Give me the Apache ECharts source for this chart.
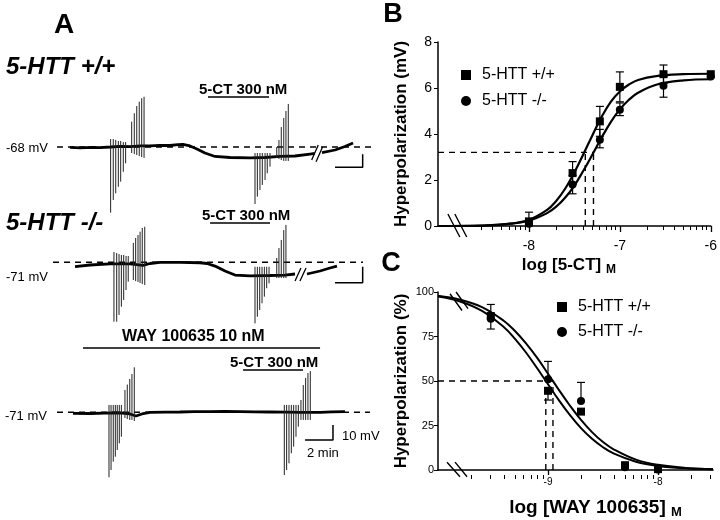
<!DOCTYPE html>
<html><head><meta charset="utf-8">
<script src="https://cdn.jsdelivr.net/npm/echarts@6/dist/echarts.min.js"></script>
<style>html,body{margin:0;padding:0;background:#fff}#c{width:720px;height:520px}</style>
</head><body><div id="c"></div>
<script>
const FONT = '"Liberation Sans", Arial, Helvetica, sans-serif';

// ---------- Panel A : membrane potential traces (time in min, Vm relative to rest in mV) ----------
const trace1Time = [1.45, 2.2, 3.0, 3.64, 4.4, 5.1, 5.82, 6.6, 7.27, 8.0, 8.73, 9.3, 9.67, 10.18, 10.69, 11.27, 12.0, 13.09, 14.55, 15.64, 16.73, 17.82, 18.91, 19.27, 19.5, 19.78, 20.73, 21.45, 22.04];
const trace1Vm   = [-0.3, -0.6, -0.2, -0.4, 0.0, 0.4, 0.3, 0.8, 0.7, 1.1, 1.0, 1.6, 1.7, 0.7, -1.3, -4.0, -6.3, -7.0, -7.3, -7.0, -6.3, -6.0, -4.7, -4.3, null, -3.7, -2.0, 0.3, 2.7];
const trace2Time = [1.82, 2.91, 4.36, 5.82, 6.76, 7.27, 8.0, 9.45, 10.91, 11.42, 12.0, 12.73, 13.45, 14.55, 16.0, 17.09, 17.82, 18.2, 18.69, 19.64, 20.36, 20.87];
const trace2Vm   = [-2.9, -1.8, -1.1, -1.1, -2.1, -0.8, -0.1, -0.1, -0.3, -0.8, -2.5, -5.8, -8.5, -9.1, -8.8, -8.5, -7.8, null, -7.8, -5.8, -3.8, -2.5];
const trace3Time = [1.67, 2.91, 4.0, 5.0, 5.82, 6.25, 6.69, 7.27, 8.4, 9.45, 10.5, 11.64, 12.7, 13.82, 14.9, 16.0, 17.1, 18.18, 19.0, 19.64, 20.5, 21.45];
const trace3Vm   = [-0.7, -0.8, -0.5, -0.3, -1.1, -2.5, -1.1, -0.1, 0.1, 0.2, 0.4, 0.5, 0.6, 0.5, 0.3, 0.2, 0.1, -0.1, 0.0, -0.1, 0.3, 0.4];

// voltage responses to current steps: time, top (mV), bottom (mV)
const spikes1Time = [4.41, 4.60, 4.78, 4.97, 5.14, 5.33, 5.50, 5.94, 6.13, 6.31, 6.49, 6.67, 6.84,
                     14.91, 15.08, 15.27, 15.44, 15.64, 15.80, 16.0, 16.49, 16.65, 16.82, 17.0, 17.16, 17.33];
const spikes1Top  = [5.3, 5.3, 4.7, 4.0, 4.0, 3.3, 3.3, 16.9, 22.5, 27.3, 30.2, 32.5, 33.5,
                     -4, -4, -4, -4, -4, -4, -4, 0, 4.7, 13.3, 19.3, 24, 28.7];
const spikes1Bot  = [-43.8, -35.3, -30.9, -26.5, -23.1, -16.5, -10.9, -4, -4.7, -5.3, -6, -6.7, -7.3,
                     -38, -33.1, -28.7, -25.3, -22, -17.5, -13.1, -7.3, -8, -8.7, -9.3, -9.3, -9.3];
const spikes2Time = [4.65, 4.85, 5.02, 5.19, 5.36, 5.53, 5.69, 6.06, 6.23, 6.4, 6.55, 6.71, 6.89,
                     14.91, 15.08, 15.25, 15.42, 15.59, 15.76, 15.93, 16.49, 16.65, 16.82, 17.0, 17.16];
const spikes2Top  = [6.9, 6.2, 5.5, 4.9, 4.9, 4.2, 4.2, 12.9, 16.2, 18.2, 20.4, 22.9, 23.7,
                     -3, -3, -3, -3, -3, -3, -3, 2.9, 9.5, 14.9, 21.5, 24.9];
const spikes2Bot  = [-39.6, -39.6, -35.1, -29.6, -25.1, -18.5, -12.9, -11.8, -12.5, -13.1, -13.8, -14.5, -15.1,
                     -40.7, -36.3, -31.8, -27.3, -22.9, -17.3, -14, -10.5, -10.5, -10.5, -10.5, -10.5];
const spikes3Time = [4.29, 4.44, 4.6, 4.75, 4.89, 5.04, 5.19, 5.45, 5.62, 5.8, 5.96, 6.13,
                     17.04, 17.21, 17.38, 17.55, 17.72, 17.89, 18.06, 18.25, 18.42, 18.59, 18.76, 18.93];
const spikes3Top  = [4.9, 4.9, 4.9, 4.9, 4.9, 4.9, 4.9, 14.9, 18.5, 22.2, 25.5, 30,
                     4.9, 4.9, 4.9, 4.9, 4.9, 4.9, 4.9, 8.2, 18.2, 22.9, 26.2, 27.5];
const spikes3Bot  = [-43.3, -38.5, -32.9, -29.6, -25.1, -20.7, -16.3, -3.8, -4.5, -5.1, -5.1, -5.8,
                     -41.8, -38.5, -34, -27.3, -22.9, -16.3, -9.6, -5.1, -5.1, -5.1, -5.1, -5.1];

// drug application bars [start, end] (min) and their drawing level (mV)
const drug1 = [11.49, 15.93], drug1Level = 33.3;
const drug2 = [11.64, 16.0],  drug2Level = 26.2;
const way3  = [2.4, 19.64],   way3Level = 42.9;
const drug3 = [14.04, 18.4],  drug3Level = 28.2;
// resting-level dashed lines [start, end] (min)
const rest1 = [0.51, 23.56], rest2 = [0.22, 22.76], rest3 = [0.51, 23.27];
// time-break marks: [t0, v0, t1, v1]
const break1 = [[19.03, -8.7, 19.51, 1.3], [19.35, -9.8, 19.83, 0.2]];
const break2 = [[17.82, -12.5, 18.25, -3.8], [18.18, -12.5, 18.62, -3.8]];
// scale bars: time span (min), voltage span (mV)
const scale1T = [20.73, 22.74], scale1V = [-13.5, -4.9];
const scale2T = [20.73, 22.74], scale2V = [-13.6, -2.9];
const scale3T = [18.55, 20.58], scale3V = [-18.5, -8.5];

// ---------- Panel B : log [5-CT] vs hyperpolarization (mV) ----------
const bLogConc = [-8, -7.52, -7.22, -7, -6.52, -6];
const bWT      = [0.2, 2.3, 4.55, 6.05, 6.6, 6.6];
const bWTLow   = [0, 1.8, 3.9, 5.4, 6.2, 6.6];
const bWTHigh  = [0.6, 2.8, 5.2, 6.7, 7.0, 6.6];
const bKO      = [0.1, 1.8, 3.75, 5.05, 6.1, 6.5];
const bKOLow   = [0.1, 1.4, 3.4, 4.8, 5.6, 6.5];
const bKOHigh  = [0.1, 2.2, 4.2, 5.35, 6.5, 6.5];
const bCurveX  = [-9, -8.5, -8.2, -8, -7.8, -7.7, -7.6, -7.5, -7.4, -7.3, -7.2, -7.1, -7, -6.9, -6.8, -6.6, -6.3, -6];
const bCurveWT = [0.0, 0.02, 0.1, 0.27, 0.7, 1.09, 1.63, 2.33, 3.13, 3.96, 4.75, 5.4, 5.85, 6.15, 6.35, 6.52, 6.6, 6.62];
const bCurveKO = [0.0, 0.02, 0.1, 0.23, 0.56, 0.84, 1.24, 1.76, 2.41, 3.12, 3.85, 4.52, 5.07, 5.49, 5.79, 6.14, 6.33, 6.38];
const bHalf = 3.2, bEC50 = [-7.38, -7.29];
const bMajorTicks = [-8, -7, -6];
const bBreak = [[-8.891, 0.52, -8.76, -0.48], [-8.815, 0.52, -8.684, -0.48]];

// ---------- Panel C : log [WAY 100635] vs hyperpolarization (%) ----------
const cLogConc = [-9.52, -9, -8.7, -8.3, -8];
const cWT      = [86.5, 44.5, 32.8, 2.7, 0.5];
const cWTLow   = [79.2, 39.3, 32.8, 2.7, 0.5];
const cWTHigh  = [93, 44.5, 32.8, 2.7, 0.5];
const cKO      = [85, 51, 38.8, 1.5, 0.3];
const cKOLow   = [85, 51, 38.8, 1.5, 0.3];
const cKOHigh  = [85, 61, 49.2, 1.5, 0.3];
const cCurveX  = [-10, -9.8, -9.6, -9.4, -9.3, -9.2, -9.1, -9.0, -8.9, -8.8, -8.7, -8.6, -8.5, -8.4, -8.2, -8.0, -7.75, -7.5];
const cCurveWT = [97.4, 94.7, 89.4, 80.2, 73.7, 66.0, 57.3, 48.2, 39.1, 30.8, 23.5, 17.5, 12.8, 9.2, 4.65, 2.28, 0.92, 0.37];
const cCurveKO = [97.9, 95.7, 91.5, 83.7, 78.1, 71.1, 63.1, 54.1, 44.9, 36.1, 28.1, 21.3, 15.7, 11.5, 5.8, 2.9, 1.17, 0.47];
const cHalf = 50, cIC50 = [-9.02, -8.955];
const cMajorTicks = [-9, -8];
const cBreakX = [[-9.918, 4.4, -9.8, -3.8], [-9.845, 4.4, -9.736, -3.8]];
const cBreakTop = [[-9.891, 99, -9.782, 89.6], [-9.836, 100, -9.727, 90.7]];

// log-spaced minor tick positions (k x 10^e)
function minorTicks(e0, e1, lo, hi) {
  const out = [];
  for (let e = e0; e <= e1; e++) for (let k = 2; k <= 9; k++) {
    const v = e + Math.log10(k);
    if (v > lo && v < hi) out.push(+v.toFixed(4));
  }
  return out;
}
const bMinor = minorTicks(-9, -7, -8.55, -6);
const cMinor = minorTicks(-10, -8, -9.75, -7.5);

// ---------- helpers ----------
const zip = (xs, ys) => xs.map((x, i) => [x, ys[i] === null ? '-' : ys[i]]);
const zip3 = (xs, a, b) => xs.map((x, i) => [x, a[i], b[i]]);
const segs = (list) => { const d = []; list.forEach((s, i) => { if (i) d.push(['-', '-']); d.push([s[0], s[1]], [s[2], s[3]]); }); return d; };
const scaleBar = (t, v) => [[t[0], v[0]], [t[1], v[0]], [t[1], v[1]]];

function vline(params, api) {
  const p1 = api.coord([api.value(0), api.value(1)]);
  const p2 = api.coord([api.value(0), api.value(2)]);
  return { type: 'line', shape: { x1: p1[0], y1: p1[1], x2: p2[0], y2: p2[1] }, style: { stroke: '#222', lineWidth: 1 } };
}
function errBar(params, api) {
  const lo = api.coord([api.value(0), api.value(1)]);
  const hi = api.coord([api.value(0), api.value(2)]);
  const w = 4, st = { stroke: '#000', lineWidth: 1.2 };
  return { type: 'group', children: [
    { type: 'line', shape: { x1: hi[0], y1: hi[1], x2: lo[0], y2: lo[1] }, style: st },
    { type: 'line', shape: { x1: hi[0] - w, y1: hi[1], x2: hi[0] + w, y2: hi[1] }, style: st },
    { type: 'line', shape: { x1: lo[0] - w, y1: lo[1], x2: lo[0] + w, y2: lo[1] }, style: st }
  ]};
}
const errData = (xs, lo, hi) => zip3(xs, lo, hi).filter(d => d[1] !== d[2]);

const black = '#000';
function plainLine(xi, data, width, dashed) {
  return { type: 'line', xAxisIndex: xi, yAxisIndex: xi, data, symbol: 'none', silent: true, clip: false,
    connectNulls: false, lineStyle: { color: black, width, type: dashed ? [6, 5] : 'solid' }, z: 3 };
}
function traceSeries(i, time, vm, sT, sTop, sBot, restSpan, scaleT, scaleV, brk, bars) {
  const s = [
    plainLine(i, [[restSpan[0], 0], [restSpan[1], 0]], 1.5, true),
    plainLine(i, zip(time, vm), 2.8, false),
    { type: 'custom', xAxisIndex: i, yAxisIndex: i, renderItem: vline, data: zip3(sT, sTop, sBot), silent: true, z: 4 },
    plainLine(i, scaleBar(scaleT, scaleV), 1.5, false)
  ];
  if (brk) s.push(plainLine(i, segs(brk), 1.3, false));
  bars.forEach(b => s.push(plainLine(i, [[b[0][0], b[1]], [b[0][1], b[1]]], 1.6, false)));
  return s;
}

const axisTxt = { color: black, fontFamily: FONT };
const traceGrids = [147, 262.3, 412.3].map(base => ({ left: 36.25, width: 343.75, top: base - 67.5, height: 142.5 }));
const gridB = { left: 438, top: 42, width: 275, height: 184 };
const gridC = { left: 438, top: 292, width: 275, height: 183 };

// axis carrying only the log-spaced minor ticks, moved onto the bottom edge of its grid
const minorAxis = (gi, min, max, vals, h) => ({
  gridIndex: gi, type: 'value', min, max, offset: -h, splitLine: { show: false },
  axisLine: { show: false }, axisLabel: { show: false },
  axisTick: { show: true, inside: true, customValues: vals, length: 4, lineStyle: { color: black, width: 1 } }
});

const option = {
  animation: false,
  backgroundColor: '#fff',
  textStyle: { fontFamily: FONT },
  grid: [...traceGrids, gridB, gridC],
  xAxis: [
    { gridIndex: 0, type: 'value', min: -1, max: 24, show: false },
    { gridIndex: 1, type: 'value', min: -1, max: 24, show: false },
    { gridIndex: 2, type: 'value', min: -1, max: 24, show: false },
    { gridIndex: 3, type: 'value', min: -9, max: -6, splitLine: { show: false },
      axisLine: { lineStyle: { color: black, width: 1.5 } },
      axisTick: { customValues: bMajorTicks, length: 6, lineStyle: { color: black, width: 1.3 } },
      axisLabel: { customValues: bMajorTicks, fontSize: 14, margin: 13, ...axisTxt },
      name: 'log [5-CT] {s|M}', nameLocation: 'middle', nameGap: 29,
      nameTextStyle: { fontSize: 17, fontWeight: 'bold', color: black, fontFamily: FONT, padding: [0, 11, 0, 0],
        rich: { s: { fontSize: 12, fontWeight: 'bold', fontFamily: FONT, padding: [9, 0, 0, 0] } } } },
    minorAxis(3, -9, -6, bMinor, gridB.height),
    { gridIndex: 4, type: 'value', min: -10, max: -7.5, splitLine: { show: false },
      axisLine: { lineStyle: { color: black, width: 1.5 } },
      axisTick: { customValues: cMajorTicks, length: 5, lineStyle: { color: black, width: 1.3 } },
      axisLabel: { customValues: cMajorTicks, fontSize: 10, margin: 7, ...axisTxt },
      name: 'log [WAY 100635] {s|M}', nameLocation: 'middle', nameGap: 26,
      nameTextStyle: { fontSize: 19, fontWeight: 'bold', color: black, fontFamily: FONT, padding: [0, 0, 0, 40],
        rich: { s: { fontSize: 13, fontWeight: 'bold', fontFamily: FONT, padding: [10, 0, 0, 0] } } } },
    minorAxis(4, -10, -7.5, cMinor, gridC.height)
  ],
  yAxis: [
    { gridIndex: 0, type: 'value', min: -50, max: 45, show: false },
    { gridIndex: 1, type: 'value', min: -50, max: 45, show: false },
    { gridIndex: 2, type: 'value', min: -50, max: 45, show: false },
    { gridIndex: 3, type: 'value', min: 0, max: 8, interval: 2, splitLine: { show: false },
      axisLine: { show: true, lineStyle: { color: black, width: 1.5 } },
      axisTick: { show: true, length: 4, lineStyle: { color: black } },
      axisLabel: { fontSize: 14, margin: 6, ...axisTxt },
      name: 'Hyperpolarization (mV)', nameLocation: 'middle', nameGap: 28,
      nameTextStyle: { fontSize: 17, fontWeight: 'bold', color: black, fontFamily: FONT } },
    { gridIndex: 4, type: 'value', min: 0, max: 100, interval: 25, splitLine: { show: false },
      axisLine: { show: true, lineStyle: { color: black, width: 1.5 } },
      axisTick: { show: true, length: 4, lineStyle: { color: black } },
      axisLabel: { fontSize: 11, margin: 4, ...axisTxt },
      name: 'Hyperpolarization (%)', nameLocation: 'middle', nameGap: 28,
      nameTextStyle: { fontSize: 17, fontWeight: 'bold', color: black, fontFamily: FONT } }
  ],
  legend: [
    { data: ['5-HTT +/+', '5-HTT -/-'], orient: 'vertical', left: 456, top: 62, itemWidth: 10, itemHeight: 10, itemGap: 10,
      itemStyle: { opacity: 1 }, textStyle: { fontSize: 16, color: black, fontFamily: FONT, padding: [0, 0, 0, 6] }, selectedMode: false },
    { data: ['5-HTT +/+', '5-HTT -/-'], orient: 'vertical', left: 552, top: 294, itemWidth: 10, itemHeight: 10, itemGap: 9,
      itemStyle: { opacity: 1 }, textStyle: { fontSize: 16, color: black, fontFamily: FONT, padding: [0, 0, 0, 6] }, selectedMode: false }
  ],
  graphic: [
    { type: 'text', x: 64, y: 25, style: { text: 'A', font: `bold 28px ${FONT}`, fill: black, textAlign: 'center', textVerticalAlign: 'middle' } },
    { type: 'text', x: 6, y: 67, style: { text: '5-HTT +/+', font: `italic bold 24px ${FONT}`, fill: black, textVerticalAlign: 'middle' } },
    { type: 'text', x: 199, y: 90, style: { text: '5-CT 300 nM', font: `bold 15px ${FONT}`, fill: black, textVerticalAlign: 'middle' } },
    { type: 'text', x: 6, y: 148, style: { text: '-68 mV', font: `13px ${FONT}`, fill: black, textVerticalAlign: 'middle' } },
    { type: 'text', x: 6, y: 223, style: { text: '5-HTT -/-', font: `italic bold 24px ${FONT}`, fill: black, textVerticalAlign: 'middle' } },
    { type: 'text', x: 202, y: 216, style: { text: '5-CT 300 nM', font: `bold 15px ${FONT}`, fill: black, textVerticalAlign: 'middle' } },
    { type: 'text', x: 6, y: 277, style: { text: '-71 mV', font: `13px ${FONT}`, fill: black, textVerticalAlign: 'middle' } },
    { type: 'text', x: 122, y: 337, style: { text: 'WAY 100635 10 nM', font: `bold 16px ${FONT}`, fill: black, textVerticalAlign: 'middle' } },
    { type: 'text', x: 230, y: 363, style: { text: '5-CT 300 nM', font: `bold 15px ${FONT}`, fill: black, textVerticalAlign: 'middle' } },
    { type: 'text', x: 5, y: 416, style: { text: '-71 mV', font: `13px ${FONT}`, fill: black, textVerticalAlign: 'middle' } },
    { type: 'text', x: 342, y: 436, style: { text: '10 mV', font: `13px ${FONT}`, fill: black, textVerticalAlign: 'middle' } },
    { type: 'text', x: 307, y: 453, style: { text: '2 min', font: `13px ${FONT}`, fill: black, textVerticalAlign: 'middle' } },
    { type: 'text', x: 393, y: 15, style: { text: 'B', font: `bold 27px ${FONT}`, fill: black, textAlign: 'center', textVerticalAlign: 'middle' } },
    { type: 'text', x: 391, y: 264, style: { text: 'C', font: `bold 27px ${FONT}`, fill: black, textAlign: 'center', textVerticalAlign: 'middle' } }
  ],
  series: [
    ...traceSeries(0, trace1Time, trace1Vm, spikes1Time, spikes1Top, spikes1Bot, rest1, scale1T, scale1V, break1, [[drug1, drug1Level]]),
    ...traceSeries(1, trace2Time, trace2Vm, spikes2Time, spikes2Top, spikes2Bot, rest2, scale2T, scale2V, break2, [[drug2, drug2Level]]),
    ...traceSeries(2, trace3Time, trace3Vm, spikes3Time, spikes3Top, spikes3Bot, rest3, scale3T, scale3V, null, [[way3, way3Level], [drug3, drug3Level]]),

    // Panel B (xAxis 3, yAxis 3)
    { ...plainLine(3, [[-9, bHalf], [bEC50[1], bHalf]], 1.4, true) },
    { ...plainLine(3, [[bEC50[0], 0], [bEC50[0], bHalf]], 1.4, true) },
    { ...plainLine(3, [[bEC50[1], 0], [bEC50[1], bHalf]], 1.4, true) },
    { ...plainLine(3, segs(bBreak), 1.4, false) },
    { type: 'line', name: 'fit +/+ B', xAxisIndex: 3, yAxisIndex: 3, data: zip(bCurveX, bCurveWT), smooth: 0.4, symbol: 'none', lineStyle: { color: black, width: 2.2 }, z: 5 },
    { type: 'line', name: 'fit -/- B', xAxisIndex: 3, yAxisIndex: 3, data: zip(bCurveX, bCurveKO), smooth: 0.4, symbol: 'none', lineStyle: { color: black, width: 2.2 }, z: 5 },
    { type: 'custom', xAxisIndex: 3, yAxisIndex: 3, renderItem: errBar, data: errData(bLogConc, bWTLow, bWTHigh), z: 6 },
    { type: 'custom', xAxisIndex: 3, yAxisIndex: 3, renderItem: errBar, data: errData(bLogConc, bKOLow, bKOHigh), z: 6 },
    { type: 'scatter', name: '5-HTT -/-', xAxisIndex: 3, yAxisIndex: 3, data: zip(bLogConc, bKO), symbol: 'circle', symbolSize: 8, itemStyle: { color: black, opacity: 1 }, z: 7 },
    { type: 'scatter', name: '5-HTT +/+', xAxisIndex: 3, yAxisIndex: 3, data: zip(bLogConc, bWT), symbol: 'rect', symbolSize: 8, itemStyle: { color: black, opacity: 1 }, z: 8 },

    // Panel C (xAxis 5, yAxis 4)
    { ...plainLine(5, [[-10, cHalf], [cIC50[1], cHalf]], 1.4, true), yAxisIndex: 4 },
    { ...plainLine(5, [[cIC50[0], 0], [cIC50[0], cHalf]], 1.4, true), yAxisIndex: 4 },
    { ...plainLine(5, [[cIC50[1], 0], [cIC50[1], cHalf]], 1.4, true), yAxisIndex: 4 },
    { ...plainLine(5, segs(cBreakX), 1.4, false), yAxisIndex: 4 },
    { ...plainLine(5, segs(cBreakTop), 1.4, false), yAxisIndex: 4, z: 9 },
    { type: 'line', name: 'fit +/+ C', xAxisIndex: 5, yAxisIndex: 4, data: zip(cCurveX, cCurveWT), smooth: 0.4, symbol: 'none', lineStyle: { color: black, width: 2 }, z: 5 },
    { type: 'line', name: 'fit -/- C', xAxisIndex: 5, yAxisIndex: 4, data: zip(cCurveX, cCurveKO), smooth: 0.4, symbol: 'none', lineStyle: { color: black, width: 2 }, z: 5 },
    { type: 'custom', xAxisIndex: 5, yAxisIndex: 4, renderItem: errBar, data: errData(cLogConc, cWTLow, cWTHigh), z: 6 },
    { type: 'custom', xAxisIndex: 5, yAxisIndex: 4, renderItem: errBar, data: errData(cLogConc, cKOLow, cKOHigh), z: 6 },
    { type: 'scatter', name: '5-HTT -/-', xAxisIndex: 5, yAxisIndex: 4, data: zip(cLogConc, cKO), symbol: 'circle', symbolSize: 8, itemStyle: { color: black, opacity: 1 }, z: 7 },
    { type: 'scatter', name: '5-HTT +/+', xAxisIndex: 5, yAxisIndex: 4, data: zip(cLogConc, cWT), symbol: 'rect', symbolSize: 8, itemStyle: { color: black, opacity: 1 }, z: 8 }
  ]
};
echarts.init(document.getElementById('c'), null, { renderer: 'canvas' }).setOption(option);
</script></body></html>
